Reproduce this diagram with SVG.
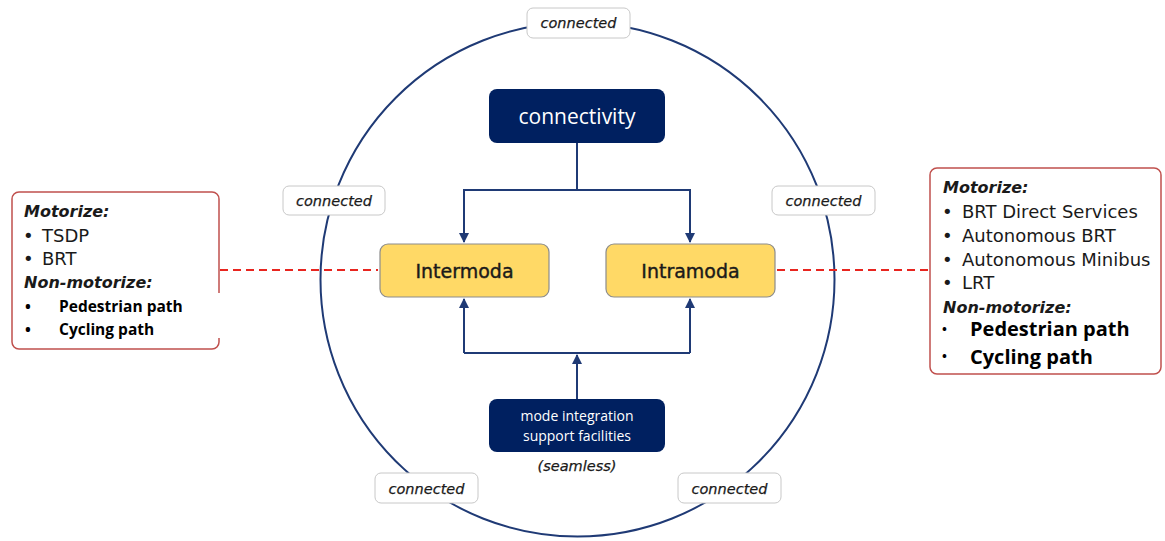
<svg xmlns="http://www.w3.org/2000/svg" width="1165" height="541" viewBox="0 0 1165 541">
<style>
.navy{fill:#002060;}
.yel{fill:#FFD966;stroke:#8c8c8c;stroke-width:1.2;}
.lbl{fill:#fff;stroke:#c8c8c8;stroke-width:1;}
.ct{font-family:"DejaVu Sans","Liberation Sans",sans-serif;font-style:italic;font-size:14.5px;fill:#1a1a1a;text-anchor:middle;stroke:#1a1a1a;stroke-width:0.25;}
.conn{fill:none;stroke:#1f3a75;stroke-width:2;}
.red{fill:#fff;stroke:#c0504d;stroke-width:1.5;}
.dash{stroke:#e8251f;stroke-width:2;stroke-dasharray:8,5;}
.t{font-family:"DejaVu Sans","Liberation Sans",sans-serif;font-size:18px;fill:#1a1a1a;}
.h{font-family:"DejaVu Sans","Liberation Sans",sans-serif;font-size:16px;font-weight:bold;font-style:italic;fill:#1a1a1a;}
.b{font-family:"Open Sans","Liberation Sans",sans-serif;font-weight:bold;fill:#000;}
.ym{font-family:"DejaVu Sans","Liberation Sans",sans-serif;font-size:19px;fill:#1a1a1a;text-anchor:middle;stroke:#1a1a1a;stroke-width:0.4;}
</style>
<defs>
<marker id="ah" viewBox="0 0 10 10" refX="9" refY="5" markerWidth="5" markerHeight="5" orient="auto"><path d="M0,0 L10,5 L0,10 z" fill="#1f3a75"/></marker>
</defs>
<circle cx="577.5" cy="279.5" r="257" fill="none" stroke="#1f3a75" stroke-width="2"/>
<g id="connectors">
<path class="conn" d="M577,143 V190 H464 V242" marker-end="url(#ah)"/>
<path class="conn" d="M577,190 H690 V242" marker-end="url(#ah)"/>
<path class="conn" d="M577,399 V355" marker-end="url(#ah)"/>
<path class="conn" d="M464,353 H690"/>
<path class="conn" d="M464,353 V299" marker-end="url(#ah)"/>
<path class="conn" d="M690,353 V299" marker-end="url(#ah)"/>
<line class="dash" x1="220" y1="270" x2="378" y2="270"/>
<line class="dash" x1="777" y1="270" x2="930" y2="270"/>
</g>
<g id="lbl-top"><rect class="lbl" x="527" y="8" width="103" height="30" rx="6"/><text class="ct" x="578.5" y="28">connected</text></g>
<g id="lbl-left"><rect class="lbl" x="283" y="186" width="102" height="29" rx="6"/><text class="ct" x="334" y="206">connected</text></g>
<g id="lbl-right"><rect class="lbl" x="772" y="186" width="103" height="29" rx="6"/><text class="ct" x="823.5" y="206">connected</text></g>
<g id="lbl-bl"><rect class="lbl" x="375" y="473" width="103" height="30" rx="6"/><text class="ct" x="426.5" y="494">connected</text></g>
<g id="lbl-br"><rect class="lbl" x="678" y="473" width="103" height="30" rx="6"/><text class="ct" x="729.5" y="494">connected</text></g>
<g id="connectivity"><rect class="navy" x="489" y="89" width="176" height="54" rx="8"/><text x="577" y="124" font-family="Open Sans, Liberation Sans, sans-serif" font-size="21" fill="#fff" text-anchor="middle">connectivity</text></g>
<g id="intermoda"><rect class="yel" x="380" y="244" width="169" height="53" rx="8"/><text class="ym" x="464.5" y="278">Intermoda</text></g>
<g id="intramoda"><rect class="yel" x="606" y="244" width="169" height="53" rx="8"/><text class="ym" x="690.5" y="278">Intramoda</text></g>
<g id="mode-integration"><rect class="navy" x="489" y="399" width="176" height="53" rx="8"/><text font-family="Open Sans, Liberation Sans, sans-serif" font-size="14" fill="#fff" text-anchor="middle"><tspan x="577" y="421">mode integration</tspan><tspan x="577" y="441">support facilities</tspan></text><text class="ct" x="577" y="471" font-size="12.5">(seamless)</text></g>
<g id="left-box">
<rect class="red" x="12" y="192" width="207" height="157" rx="7"/>
<rect x="214" y="293" width="8" height="45" fill="#fff"/>
<text class="h" x="24" y="217">Motorize:</text>
<text class="t" x="23" y="242">•</text><text class="t" x="42" y="242">TSDP</text>
<text class="t" x="23" y="265">•</text><text class="t" x="42" y="265">BRT</text>
<text class="h" x="24" y="288">Non-motorize:</text>
<text class="b" font-size="15.5" x="25" y="312">•</text><text class="b" font-size="15.5" x="59" y="312">Pedestrian path</text>
<text class="b" font-size="15.5" x="25" y="335">•</text><text class="b" font-size="15.5" x="59" y="335">Cycling path</text>
</g>
<g id="right-box">
<rect class="red" x="930" y="168" width="231" height="206" rx="7"/>
<text class="h" x="943" y="193">Motorize:</text>
<text class="t" x="942" y="218">•</text><text class="t" x="962" y="218">BRT Direct Services</text>
<text class="t" x="942" y="242">•</text><text class="t" x="962" y="242">Autonomous BRT</text>
<text class="t" x="942" y="266">•</text><text class="t" x="962" y="266">Autonomous Minibus</text>
<text class="t" x="942" y="289">•</text><text class="t" x="962" y="289">LRT</text>
<text class="h" x="943" y="313">Non-motorize:</text>
<text class="b" font-size="13" x="942" y="334">•</text><text class="b" font-size="20" x="970" y="336">Pedestrian path</text>
<text class="b" font-size="13" x="942" y="361">•</text><text class="b" font-size="20" x="970" y="364">Cycling path</text>
</g>
</svg>
